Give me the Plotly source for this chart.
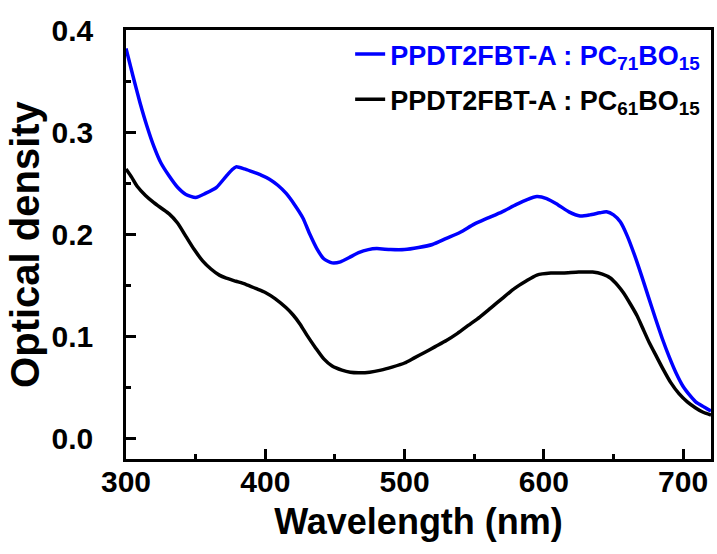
import plotly.graph_objects as go

wl_pc71 = [300, 305, 310, 315, 320, 325, 331, 337, 343, 350, 357, 365, 372, 376, 379, 385, 391, 397, 403, 409,
           415, 421, 427, 432, 437, 442, 448, 454, 460, 467, 474, 480, 490, 500, 510, 520, 530, 540, 550, 560,
           570, 580, 588, 595, 602, 610, 618, 626, 633, 640, 645, 650, 655, 660, 665, 670, 675, 680, 685, 690,
           695, 700, 705, 709, 715, 720]
od_pc71 = [0.382, 0.355, 0.329, 0.306, 0.286, 0.270, 0.257, 0.246, 0.239, 0.236, 0.240, 0.246, 0.257, 0.263, 0.266,
           0.264, 0.261, 0.258, 0.254, 0.248, 0.240, 0.229, 0.216, 0.200, 0.186, 0.176, 0.172, 0.173, 0.177, 0.182,
           0.185, 0.186, 0.185, 0.185, 0.187, 0.190, 0.196, 0.202, 0.210, 0.216, 0.222, 0.229, 0.234, 0.237, 0.235,
           0.229, 0.222, 0.218, 0.219, 0.221, 0.222, 0.219, 0.212, 0.198, 0.180, 0.160, 0.139, 0.118, 0.098, 0.080,
           0.064, 0.051, 0.042, 0.036, 0.031, 0.027]

wl_pc61 = [300, 304, 308, 314, 320, 326, 331, 337, 343, 349, 355, 361, 367, 372, 379, 386, 393, 400, 407, 415,
           420, 425, 430, 436, 442, 448, 455, 461, 467, 475, 483, 491, 500, 507, 514, 522, 530, 538, 546, 554,
           562, 570, 579, 587, 595, 605, 614, 625, 635, 642, 648, 653, 657, 662, 667, 671, 676, 681, 686, 691,
           697, 703, 709, 714, 720]
od_pc61 = [0.264, 0.256, 0.247, 0.238, 0.231, 0.225, 0.220, 0.211, 0.198, 0.185, 0.174, 0.166, 0.160, 0.157, 0.154,
           0.151, 0.147, 0.143, 0.137, 0.128, 0.121, 0.112, 0.101, 0.089, 0.078, 0.071, 0.067, 0.065, 0.0645, 0.065,
           0.067, 0.070, 0.074, 0.079, 0.084, 0.090, 0.096, 0.103, 0.111, 0.119, 0.128, 0.137, 0.147, 0.154, 0.160,
           0.162, 0.162, 0.163, 0.163, 0.161, 0.157, 0.150, 0.143, 0.132, 0.120, 0.108, 0.093, 0.080, 0.067, 0.055,
           0.044, 0.036, 0.030, 0.026, 0.023]

x_ticks = [300, 400, 500, 600, 700]
y_ticks = [0.0, 0.1, 0.2, 0.3, 0.4]
y_ticktext = ["0.0", "0.1", "0.2", "0.3", "0.4"]

name_pc71 = '<span style="color:#0000ff">PPDT2FBT-A : PC<sub>71</sub>BO<sub>15</sub></span>'
name_pc61 = 'PPDT2FBT-A : PC<sub>61</sub>BO<sub>15</sub>'

FONT = "Arial, Liberation Sans, sans-serif"

fig = go.Figure()
fig.add_trace(go.Scatter(x=wl_pc71, y=od_pc71, mode="lines", name=name_pc71, legendgroup="a",
                         line=dict(color="#0000ff", width=3.5, shape="spline", smoothing=0.6)))
fig.add_trace(go.Scatter(x=wl_pc61, y=od_pc61, mode="lines", name=name_pc61, legendgroup="b",
                         line=dict(color="#000000", width=3.5, shape="spline", smoothing=0.6)))

axis_common = dict(
    showline=True, linecolor="black", linewidth=2.5, mirror=True,
    ticks="inside", ticklen=10, tickwidth=2.5, tickcolor="black",
    showgrid=False, zeroline=False,
    tickfont=dict(family=FONT, size=30, color="black", weight="bold"),
)

fig.update_xaxes(range=[300, 720], tickmode="array", tickvals=x_ticks,
                 minor=dict(ticks="inside", ticklen=5, tickwidth=2.5, tickcolor="black", dtick=50, tick0=300),
                 title=dict(text="Wavelength (nm)", font=dict(family=FONT, size=36, color="black", weight="bold"),
                            standoff=13),
                 ticklabelstandoff=-6,
                 **axis_common)
fig.update_yaxes(range=[-0.02, 0.4], tickmode="array", tickvals=y_ticks, ticktext=y_ticktext,
                 minor=dict(ticks="inside", ticklen=5, tickwidth=2.5, tickcolor="black", dtick=0.05, tick0=0),
                 title=dict(text="Optical density", font=dict(family=FONT, size=40, color="black", weight="bold"),
                            standoff=0),
                 ticklabelstandoff=24,
                 **axis_common)

fig.update_layout(
    width=717, height=554,
    margin=dict(l=126, r=3, t=30, b=95),
    paper_bgcolor="white", plot_bgcolor="white",
    font=dict(family=FONT, color="black"),
    legend=dict(x=0.99, y=1, xanchor="right", yanchor="top", bgcolor="rgba(0,0,0,0)",
                font=dict(family=FONT, size=27, color="black", weight="bold"),
                tracegroupgap=7, borderwidth=0),
)

fig.write_html("out.html", config={"displayModeBar": False},
               post_script="document.body.style.margin='0';")
